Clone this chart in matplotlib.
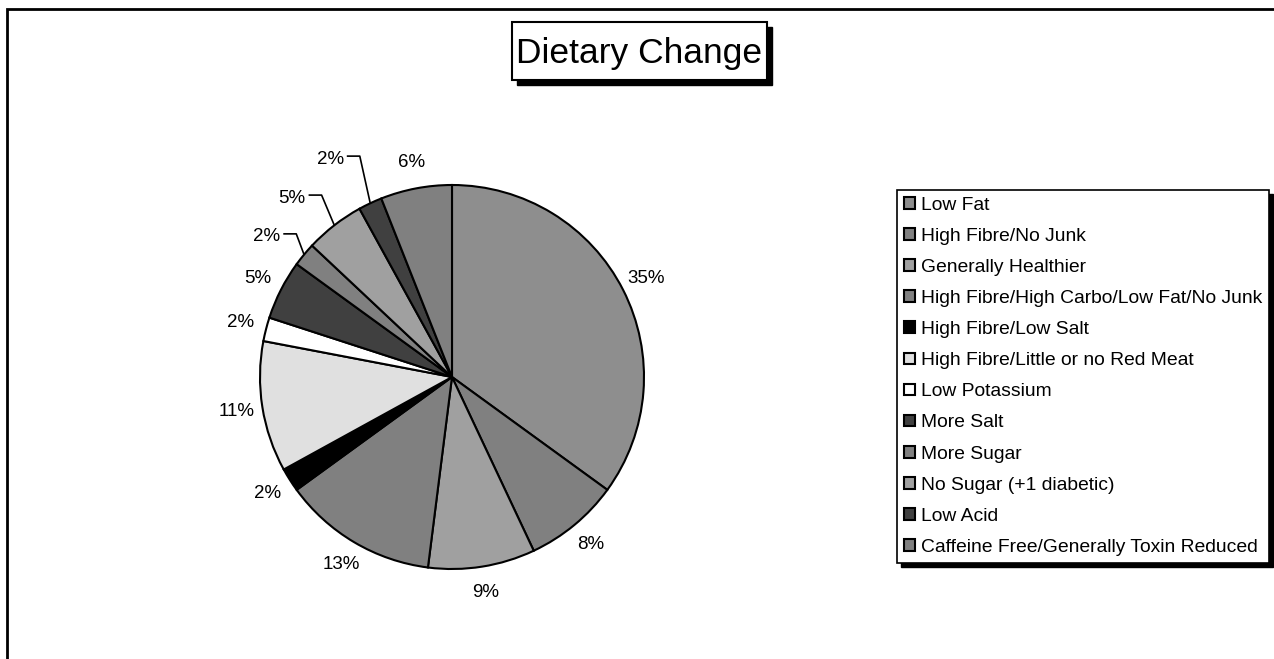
import matplotlib.pyplot as plt
from matplotlib.patches import Rectangle
import numpy as np

W, H = 1274, 659

categories = ['Low Fat', 'High Fibre/No Junk', 'Generally Healthier',
              'High Fibre/High Carbo/Low Fat/No Junk', 'High Fibre/Low Salt',
              'High Fibre/Little or no Red Meat', 'Low Potassium', 'More Salt',
              'More Sugar', 'No Sugar (+1 diabetic)', 'Low Acid',
              'Caffeine Free/Generally Toxin Reduced']
percent = [35, 8, 9, 13, 2, 11, 2, 5, 2, 5, 2, 6]
colors = ['#8e8e8e', '#808080', '#a0a0a0', '#808080', '#000000', '#e0e0e0',
          '#ffffff', '#404040', '#808080', '#a0a0a0', '#404040', '#808080']

plt.rcParams['font.family'] = ['Liberation Sans', 'DejaVu Sans']


def fx(x):
    return x / W


def fy(y):
    return 1 - y / H


fig = plt.figure(figsize=(W / 100, H / 100), dpi=100)

# outer chart frame, runs off the right and bottom edges
fig.patches.append(Rectangle((fx(7), fy(700)), fx(1400), 691 / H,
                             transform=fig.transFigure, fill=False,
                             edgecolor='black', linewidth=2))

# pie axes: centre (452, 377) px, radius 192 px
R = 192
half = 310
ax = fig.add_axes([fx(452 - half), (H - 377 - half) / H, 2 * half / W, 2 * half / H])
wedges, texts, autotexts = ax.pie(
    percent, colors=colors, startangle=90, counterclock=False,
    autopct='%1.0f%%', pctdistance=1.135,
    wedgeprops=dict(edgecolor='black', linewidth=1.5),
    textprops=dict(fontsize=13.5, color='black'))
ax.set_xlim(-half / R, half / R)
ax.set_ylim(-half / R, half / R)
ax.set_axis_off()

# small slices on the upper left get pulled out with leader lines
# index: (radius, angle shift in degrees)
leader = {8: (1.21, 2.5), 9: (1.25, 4), 10: (1.30, 4)}
for i, (r, da) in leader.items():
    w = wedges[i]
    mid = np.deg2rad((w.theta1 + w.theta2) / 2 + da)
    autotexts[i].set_position((r * np.cos(mid), r * np.sin(mid)))

fig.canvas.draw()
inv = ax.transData.inverted()
for i in leader:
    w = wedges[i]
    mid = np.deg2rad((w.theta1 + w.theta2) / 2)
    bb = autotexts[i].get_window_extent()
    x0, y0 = inv.transform((bb.x1 + 3, (bb.y0 + bb.y1) / 2 + 3))
    x1 = x0 + 13 / R
    ex, ey = np.cos(mid), np.sin(mid)
    ax.plot([x0, x1, ex], [y0, y0, ey], color='black', linewidth=1.2,
            solid_capstyle='butt')

# title box with a drop shadow
fig.patches.append(Rectangle((fx(517), fy(85)), fx(255), 58 / H,
                             transform=fig.transFigure, facecolor='black',
                             edgecolor='black'))
fig.patches.append(Rectangle((fx(512), fy(80)), fx(255), 58 / H,
                             transform=fig.transFigure, facecolor='white',
                             edgecolor='black', linewidth=1.5))
fig.text(fx(639.5), fy(54), 'Dietary Change', fontsize=25.5, ha='center',
         va='center')

leg = fig.legend(wedges, categories, loc='upper left',
                 bbox_to_anchor=(fx(897), fy(190)), borderaxespad=0,
                 fontsize=13.9, frameon=True, fancybox=False,
                 edgecolor='black', framealpha=1,
                 handlelength=0.56, handleheight=0.56, handletextpad=0.31,
                 labelspacing=0.73, borderpad=0.35)
leg.get_frame().set_linewidth(1.2)

# legend drop shadow
fig.canvas.draw()
lb = leg.get_window_extent()
fig.patches.append(Rectangle((lb.x0 + 4, lb.y0 - 4), lb.width, lb.height,
                             transform=None, facecolor='black',
                             edgecolor='black'))

fig.savefig('out.png', dpi=100)
